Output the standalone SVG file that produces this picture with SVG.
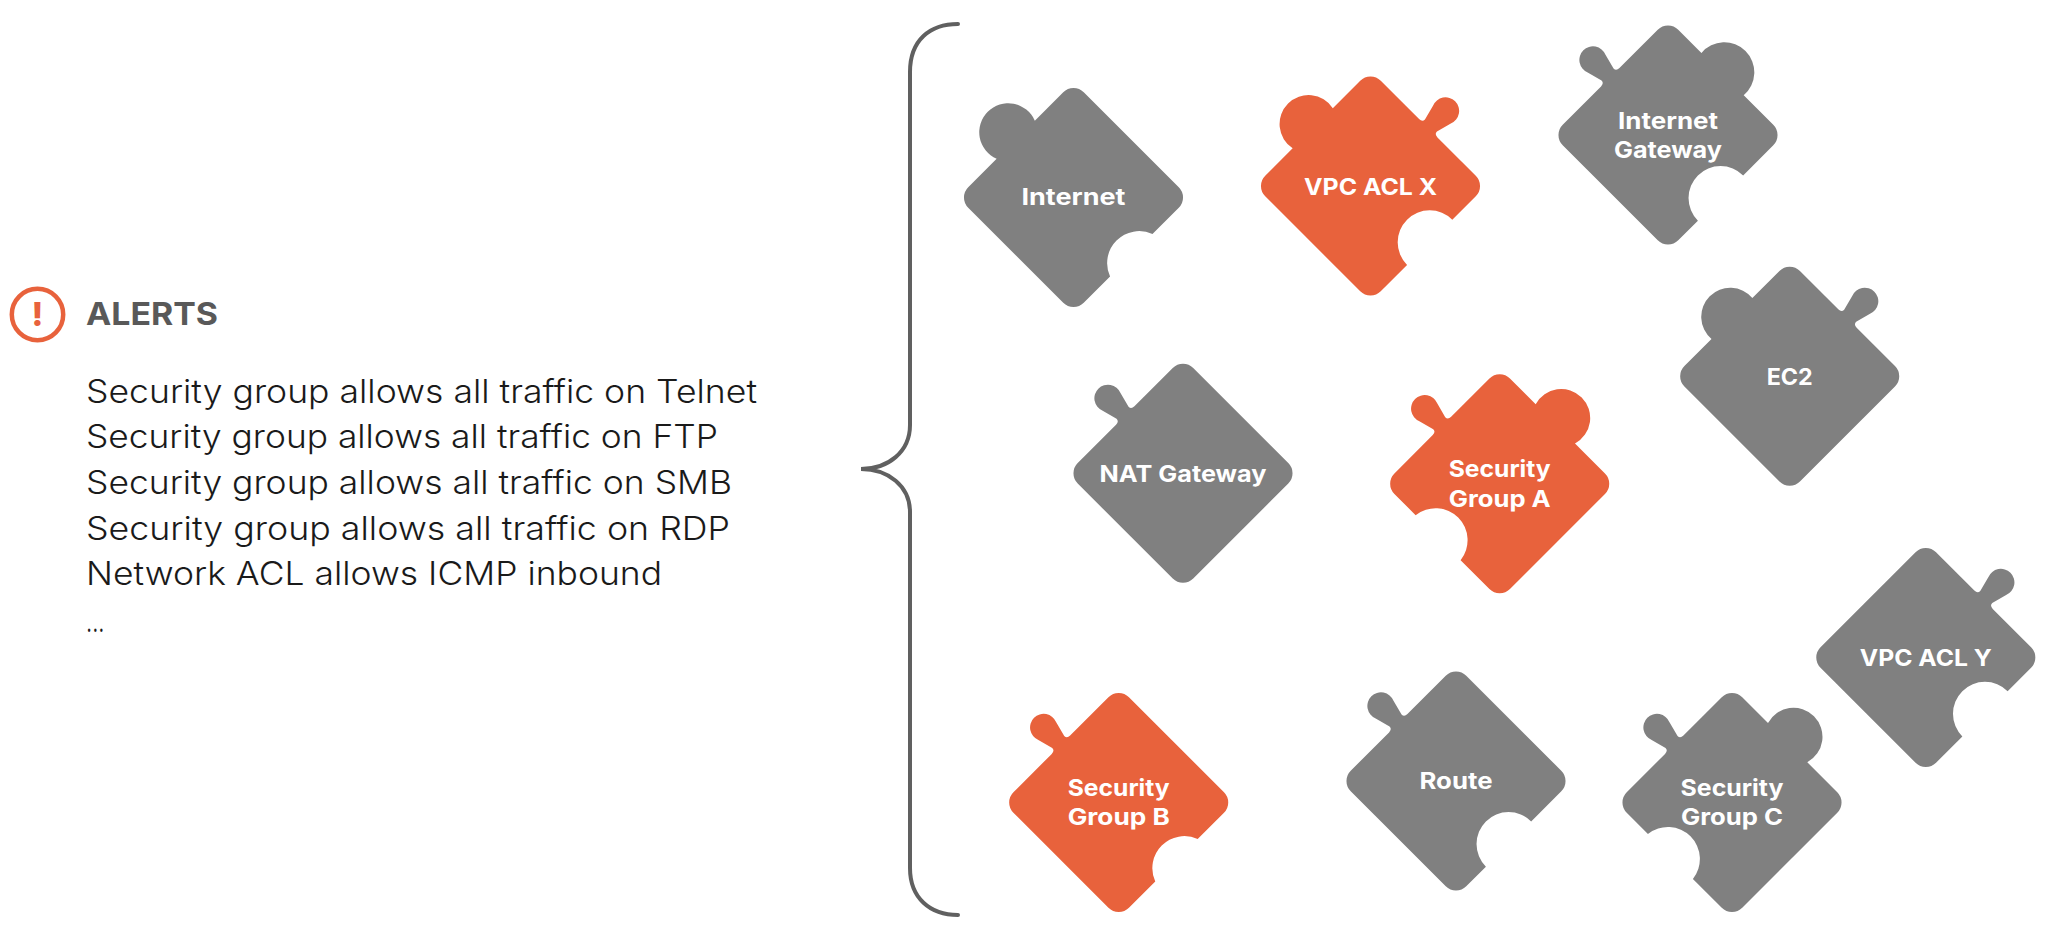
<svg xmlns="http://www.w3.org/2000/svg" width="2048" height="938" viewBox="0 0 2048 938">
<style>
.g{fill:#808080}.o{fill:#e8623c}
.l{font-family:Inter,"Liberation Sans",sans-serif;font-weight:700;font-size:23px;fill:#fff;text-anchor:middle}
.b{font-family:Inter,"Liberation Sans",sans-serif;font-weight:300;font-size:32.5px;fill:#1a1a1a}
.h{font-family:Inter,"Liberation Sans",sans-serif;font-weight:700;font-size:31.5px;fill:#595959}
.br{fill:none;stroke:#606060;stroke-width:4;stroke-linecap:round}
</style>
<defs>
<path id="p1" transform="rotate(45)" d="M-67.2,-81.7L67.2,-81.7A14.5,14.5 0 0 1 81.7,-67.2L81.7,-30A32,32 0 0 0 81.7,30L81.7,67.2A14.5,14.5 0 0 1 67.2,81.7L-67.2,81.7A14.5,14.5 0 0 1 -81.7,67.2L-81.7,27A29,29 0 1 1 -81.7,-27L-81.7,-67.2A14.5,14.5 0 0 1 -67.2,-81.7Z"/>
<path id="p2" transform="rotate(45)" d="M-67.2,-81.7L-13,-81.7Q-8.5,-81.7 -8.5,-85.5L-12.6,-101A13.6,13.6 0 1 1 12.6,-101L8.5,-85.5Q8.5,-81.7 13,-81.7L67.2,-81.7A14.5,14.5 0 0 1 81.7,-67.2L81.7,-34A32,32 0 0 0 81.7,30L81.7,67.2A14.5,14.5 0 0 1 67.2,81.7L-67.2,81.7A14.5,14.5 0 0 1 -81.7,67.2L-81.7,28.4A29,29 0 1 1 -81.7,-28.4L-81.7,-67.2A14.5,14.5 0 0 1 -67.2,-81.7Z"/>
<path id="p3" transform="rotate(45)" d="M-67.2,-81.7L-34.4,-81.7A30,30 0 1 1 25.4,-81.7L67.2,-81.7A14.5,14.5 0 0 1 81.7,-67.2L81.7,-24.6A32,32 0 0 0 81.7,39.4L81.7,67.2A14.5,14.5 0 0 1 67.2,81.7L-67.2,81.7A14.5,14.5 0 0 1 -81.7,67.2L-81.7,13Q-81.7,8.5 -85.5,8.5L-101,12.6A13.6,13.6 0 1 1 -101,-12.6L-85.5,-8.5Q-81.7,-8.5 -81.7,-13L-81.7,-67.2A14.5,14.5 0 0 1 -67.2,-81.7Z"/>
<path id="p4" transform="rotate(45)" d="M-67.2,-81.7L-13,-81.7Q-8.5,-81.7 -8.5,-85.5L-12.6,-101A13.6,13.6 0 1 1 12.6,-101L8.5,-85.5Q8.5,-81.7 13,-81.7L67.2,-81.7A14.5,14.5 0 0 1 81.7,-67.2L81.7,67.2A14.5,14.5 0 0 1 67.2,81.7L-67.2,81.7A14.5,14.5 0 0 1 -81.7,67.2L-81.7,28.9A29,29 0 1 1 -81.7,-28.9L-81.7,-67.2A14.5,14.5 0 0 1 -67.2,-81.7Z"/>
<path id="p5" transform="rotate(45)" d="M-67.2,-81.7L67.2,-81.7A14.5,14.5 0 0 1 81.7,-67.2L81.7,67.2A14.5,14.5 0 0 1 67.2,81.7L-67.2,81.7A14.5,14.5 0 0 1 -81.7,67.2L-81.7,13Q-81.7,8.5 -85.5,8.5L-101,12.6A13.6,13.6 0 1 1 -101,-12.6L-85.5,-8.5Q-81.7,-8.5 -81.7,-13L-81.7,-67.2A14.5,14.5 0 0 1 -67.2,-81.7Z"/>
<path id="p6" transform="rotate(45)" d="M-67.2,-81.7L-30.8,-81.7A29,29 0 1 1 24.8,-81.7L67.2,-81.7A14.5,14.5 0 0 1 81.7,-67.2L81.7,67.2A14.5,14.5 0 0 1 67.2,81.7L26.4,81.7A32,32 0 0 0 -37.2,81.7L-67.2,81.7A14.5,14.5 0 0 1 -81.7,67.2L-81.7,13Q-81.7,8.5 -85.5,8.5L-101,12.6A13.6,13.6 0 1 1 -101,-12.6L-85.5,-8.5Q-81.7,-8.5 -81.7,-13L-81.7,-67.2A14.5,14.5 0 0 1 -67.2,-81.7Z"/>
<path id="p7" transform="rotate(45)" d="M-67.2,-81.7L67.2,-81.7A14.5,14.5 0 0 1 81.7,-67.2L81.7,-30A32,32 0 0 0 81.7,30L81.7,67.2A14.5,14.5 0 0 1 67.2,81.7L-67.2,81.7A14.5,14.5 0 0 1 -81.7,67.2L-81.7,13Q-81.7,8.5 -85.5,8.5L-101,12.6A13.6,13.6 0 1 1 -101,-12.6L-85.5,-8.5Q-81.7,-8.5 -81.7,-13L-81.7,-67.2A14.5,14.5 0 0 1 -67.2,-81.7Z"/>
<path id="p8" transform="rotate(45)" d="M-67.2,-81.7L-13,-81.7Q-8.5,-81.7 -8.5,-85.5L-12.6,-101A13.6,13.6 0 1 1 12.6,-101L8.5,-85.5Q8.5,-81.7 13,-81.7L67.2,-81.7A14.5,14.5 0 0 1 81.7,-67.2L81.7,-34A32,32 0 0 0 81.7,30L81.7,67.2A14.5,14.5 0 0 1 67.2,81.7L-67.2,81.7A14.5,14.5 0 0 1 -81.7,67.2L-81.7,-67.2A14.5,14.5 0 0 1 -67.2,-81.7Z"/>
<path id="p9" transform="rotate(45)" d="M-67.2,-81.7L67.2,-81.7A14.5,14.5 0 0 1 81.7,-67.2L81.7,-24.6A32,32 0 0 0 81.7,39.4L81.7,67.2A14.5,14.5 0 0 1 67.2,81.7L-67.2,81.7A14.5,14.5 0 0 1 -81.7,67.2L-81.7,13Q-81.7,8.5 -85.5,8.5L-101,12.6A13.6,13.6 0 1 1 -101,-12.6L-85.5,-8.5Q-81.7,-8.5 -81.7,-13L-81.7,-67.2A14.5,14.5 0 0 1 -67.2,-81.7Z"/>
</defs>
<rect width="2048" height="938" fill="#fff"/>
<g id="alerts">
<circle cx="37.5" cy="314.5" r="25.7" fill="none" stroke="#e8623c" stroke-width="4.5"/>
<text x="37.5" y="326" text-anchor="middle" style="font-family:Inter,'Liberation Sans',sans-serif;font-weight:800;font-size:33px;fill:#e8623c">!</text>
<text class="h" x="86" y="325" textLength="132" lengthAdjust="spacingAndGlyphs">ALERTS</text>
<text class="b" x="86" y="403" textLength="671" lengthAdjust="spacingAndGlyphs">Security group allows all traffic on Telnet</text>
<text class="b" x="86" y="448" textLength="632" lengthAdjust="spacingAndGlyphs">Security group allows all traffic on FTP</text>
<text class="b" x="86" y="494" textLength="646" lengthAdjust="spacingAndGlyphs">Security group allows all traffic on SMB</text>
<text class="b" x="86" y="540" textLength="644" lengthAdjust="spacingAndGlyphs">Security group allows all traffic on RDP</text>
<text class="b" x="86" y="585" textLength="576" lengthAdjust="spacingAndGlyphs">Network ACL allows ICMP inbound</text>
<text class="b" x="86" y="632" textLength="18.5" lengthAdjust="spacingAndGlyphs">...</text>
</g>
<g id="connectors">
<path class="br" d="M958,24C930,24 910,40 910,72L910,425C910,452 888,469 861,469C888,469 910,486 910,512L910,868C910,898 930,915 958,915"/>
</g>
<g id="internet" transform="translate(1073.5,197.5)"><use href="#p1" class="g"/><text class="l" y="7.5" textLength="104" lengthAdjust="spacingAndGlyphs">Internet</text></g>
<g id="vpc-acl-x" transform="translate(1370.5,186)"><use href="#p2" class="o"/><text class="l" y="9" textLength="133" lengthAdjust="spacingAndGlyphs">VPC ACL X</text></g>
<g id="internet-gateway" transform="translate(1668,135)"><use href="#p3" class="g"/><text class="l" y="-5.7" textLength="100" lengthAdjust="spacingAndGlyphs">Internet</text><text class="l" y="23.3" textLength="108" lengthAdjust="spacingAndGlyphs">Gateway</text></g>
<g id="ec2" transform="translate(1789.7,376.3)"><use href="#p4" class="g"/><text class="l" y="8.4" textLength="46" lengthAdjust="spacingAndGlyphs">EC2</text></g>
<g id="nat-gateway" transform="translate(1183,473.3)"><use href="#p5" class="g"/><text class="l" y="9" textLength="167" lengthAdjust="spacingAndGlyphs">NAT Gateway</text></g>
<g id="security-group-a" transform="translate(1499.7,483.7)"><use href="#p6" class="o"/><text class="l" y="-7" textLength="102" lengthAdjust="spacingAndGlyphs">Security</text><text class="l" y="23" textLength="102" lengthAdjust="spacingAndGlyphs">Group A</text></g>
<g id="security-group-b" transform="translate(1118.7,802.5)"><use href="#p7" class="o"/><text class="l" y="-6.5" textLength="102" lengthAdjust="spacingAndGlyphs">Security</text><text class="l" y="22.5" textLength="102" lengthAdjust="spacingAndGlyphs">Group B</text></g>
<g id="route" transform="translate(1456,781)"><use href="#p9" class="g"/><text class="l" y="7.7" textLength="73" lengthAdjust="spacingAndGlyphs">Route</text></g>
<g id="security-group-c" transform="translate(1732,802.5)"><use href="#p6" class="g"/><text class="l" y="-6.5" textLength="103" lengthAdjust="spacingAndGlyphs">Security</text><text class="l" y="22.5" textLength="102" lengthAdjust="spacingAndGlyphs">Group C</text></g>
<g id="vpc-acl-y" transform="translate(1925.8,657.5)"><use href="#p8" class="g"/><text class="l" y="8.2" textLength="132" lengthAdjust="spacingAndGlyphs">VPC ACL Y</text></g>
</svg>
